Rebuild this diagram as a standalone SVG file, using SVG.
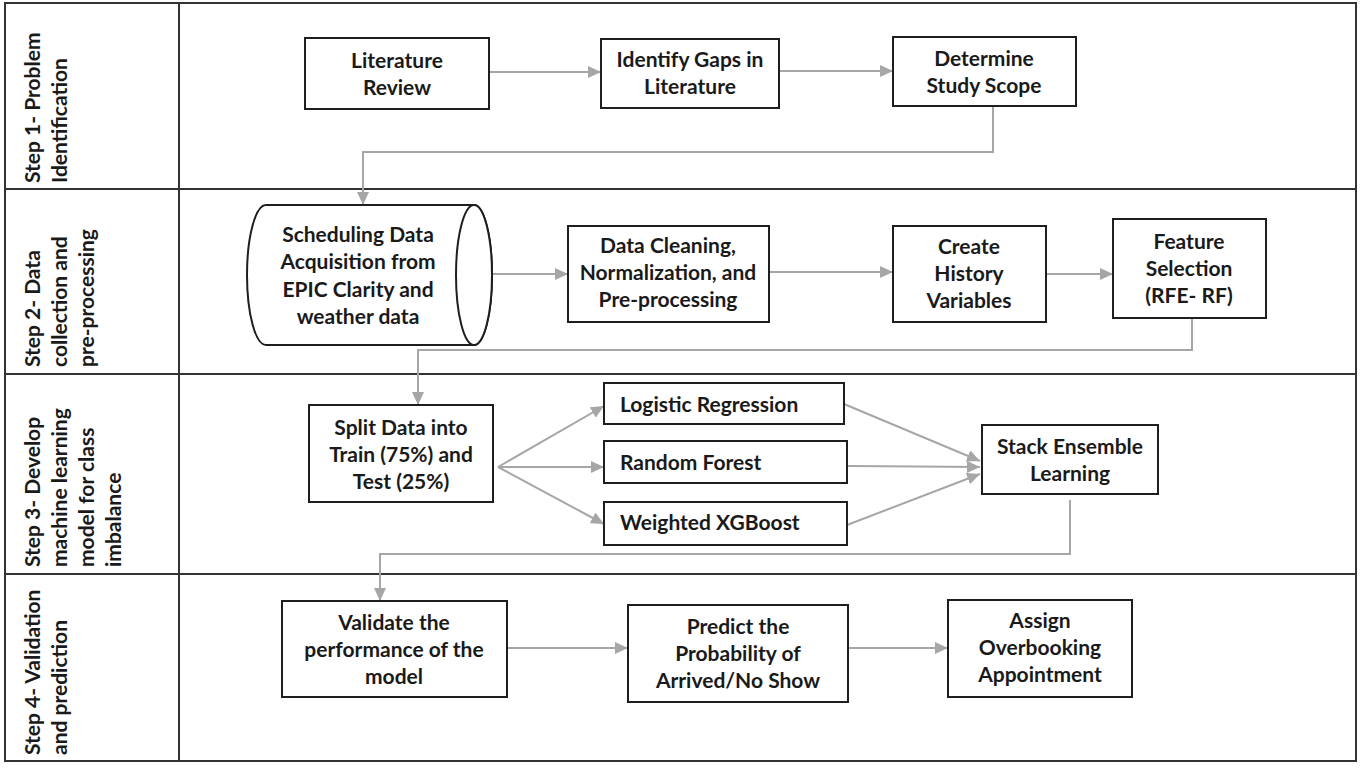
<svg xmlns="http://www.w3.org/2000/svg" width="1364" height="768" viewBox="0 0 1364 768">
  <defs>
    <marker id="arrow" markerUnits="userSpaceOnUse" markerWidth="14" markerHeight="12" refX="13" refY="6" orient="auto">
      <path d="M0,0 L13,6 L0,12 Z" fill="#a6a6a6"/>
    </marker>
    <style>
      .grid { fill: none; stroke: #333; stroke-width: 2; }
      .box { fill: #fff; stroke: #1e1e1e; stroke-width: 2; }
      .conn { fill: none; stroke: #a6a6a6; stroke-width: 2; marker-end: url(#arrow); }
      text { font-family: Lato, "Liberation Sans", sans-serif; font-weight: bold; font-size: 21px; fill: #1a1a1a; }
      .c { text-anchor: middle; }
      .lbl { text-anchor: start; }
    </style>
  </defs>
  <rect width="1364" height="768" fill="#fff"/>

  <!-- table frame -->
  <g id="table">
    <rect class="grid" x="5" y="3" width="1351" height="758"/>
    <line class="grid" x1="179" y1="3" x2="179" y2="761"/>
    <line class="grid" x1="5" y1="189" x2="1356" y2="189"/>
    <line class="grid" x1="5" y1="374" x2="1356" y2="374"/>
    <line class="grid" x1="5" y1="574" x2="1356" y2="574"/>
  </g>

  <!-- row labels -->
  <g id="label-step1">
    <text class="lbl" transform="translate(40,183) rotate(-90)">Step 1- Problem</text>
    <text class="lbl" transform="translate(67,183) rotate(-90)">Identification</text>
  </g>
  <g id="label-step2">
    <text class="lbl" transform="translate(40,367) rotate(-90)">Step 2- Data</text>
    <text class="lbl" transform="translate(67,367) rotate(-90)">collection and</text>
    <text class="lbl" transform="translate(94,367) rotate(-90)">pre-processing</text>
  </g>
  <g id="label-step3">
    <text class="lbl" transform="translate(40,567) rotate(-90)">Step 3- Develop</text>
    <text class="lbl" transform="translate(67,567) rotate(-90)">machine learning</text>
    <text class="lbl" transform="translate(94,567) rotate(-90)">model for class</text>
    <text class="lbl" transform="translate(121,567) rotate(-90)">imbalance</text>
  </g>
  <g id="label-step4">
    <text class="lbl" transform="translate(40,755) rotate(-90)">Step 4- Validation</text>
    <text class="lbl" transform="translate(67,755) rotate(-90)">and prediction</text>
  </g>

  <!-- connectors -->
  <g id="connectors">
    <path class="conn" d="M489,72 H601"/>
    <path class="conn" d="M779,71 H893"/>
    <path class="conn" d="M993,106 V152 H363 V205"/>
    <path class="conn" d="M492,274 H568"/>
    <path class="conn" d="M769,272 H893"/>
    <path class="conn" d="M1046,274 H1113"/>
    <path class="conn" d="M1192,318 V350 H418 V405"/>
    <path class="conn" d="M498,467 L604,406"/>
    <path class="conn" d="M498,467 L604,467"/>
    <path class="conn" d="M498,467 L604,524"/>
    <path class="conn" d="M844,404 L980,461"/>
    <path class="conn" d="M847,466 L980,467"/>
    <path class="conn" d="M847,525 L980,474"/>
    <path class="conn" d="M1070,500 V554 H380 V601"/>
    <path class="conn" d="M507,648 H628"/>
    <path class="conn" d="M848,648 H948"/>
  </g>

  <!-- step 1 -->
  <g id="literature-review">
    <rect class="box" x="305" y="38" width="184" height="71"/>
    <text class="c" x="397" y="68">Literature</text>
    <text class="c" x="397" y="95">Review</text>
  </g>
  <g id="identify-gaps">
    <rect class="box" x="601" y="39" width="178" height="69"/>
    <text class="c" x="690" y="67">Identify Gaps in</text>
    <text class="c" x="690" y="94">Literature</text>
  </g>
  <g id="study-scope">
    <rect class="box" x="893" y="37" width="183" height="69"/>
    <text class="c" x="984" y="66">Determine</text>
    <text class="c" x="984" y="93">Study Scope</text>
  </g>

  <!-- step 2 -->
  <g id="data-acquisition">
    <path class="box" d="M266,205 H474 A18,70 0 0 1 474,345 H266 A19,70 0 0 1 266,205 Z"/>
    <ellipse class="box" cx="474" cy="275" rx="18" ry="70"/>
    <text class="c" x="358" y="242">Scheduling Data</text>
    <text class="c" x="358" y="269">Acquisition from</text>
    <text class="c" x="358" y="297">EPIC Clarity and</text>
    <text class="c" x="358" y="324">weather data</text>
  </g>
  <g id="data-cleaning">
    <rect class="box" x="568" y="226" width="201" height="96"/>
    <text class="c" x="668" y="253">Data Cleaning,</text>
    <text class="c" x="668" y="280">Normalization, and</text>
    <text class="c" x="668" y="307">Pre-processing</text>
  </g>
  <g id="history-variables">
    <rect class="box" x="893" y="226" width="153" height="96"/>
    <text class="c" x="969" y="254">Create</text>
    <text class="c" x="969" y="281">History</text>
    <text class="c" x="969" y="308">Variables</text>
  </g>
  <g id="feature-selection">
    <rect class="box" x="1113" y="219" width="153" height="99"/>
    <text class="c" x="1189" y="249">Feature</text>
    <text class="c" x="1189" y="276">Selection</text>
    <text class="c" x="1189" y="303">(RFE- RF)</text>
  </g>

  <!-- step 3 -->
  <g id="split-data">
    <rect class="box" x="309" y="405" width="184" height="97"/>
    <text class="c" x="401" y="435">Split Data into</text>
    <text class="c" x="401" y="462">Train (75%) and</text>
    <text class="c" x="401" y="489">Test (25%)</text>
  </g>
  <g id="logistic-regression">
    <rect class="box" x="604" y="383" width="240" height="41"/>
    <text x="620" y="412">Logistic Regression</text>
  </g>
  <g id="random-forest">
    <rect class="box" x="604" y="441" width="243" height="42"/>
    <text x="620" y="470">Random Forest</text>
  </g>
  <g id="weighted-xgboost">
    <rect class="box" x="604" y="502" width="243" height="43"/>
    <text x="620" y="530">Weighted XGBoost</text>
  </g>
  <g id="stack-ensemble">
    <rect class="box" x="982" y="425" width="176" height="69"/>
    <text class="c" x="1070" y="454">Stack Ensemble</text>
    <text class="c" x="1070" y="481">Learning</text>
  </g>

  <!-- step 4 -->
  <g id="validate">
    <rect class="box" x="282" y="601" width="225" height="96"/>
    <text class="c" x="394" y="630">Validate the</text>
    <text class="c" x="394" y="657">performance of the</text>
    <text class="c" x="394" y="684">model</text>
  </g>
  <g id="predict">
    <rect class="box" x="628" y="605" width="220" height="97"/>
    <text class="c" x="738" y="634">Predict the</text>
    <text class="c" x="738" y="661">Probability of</text>
    <text class="c" x="738" y="688">Arrived/No Show</text>
  </g>
  <g id="assign">
    <rect class="box" x="948" y="600" width="184" height="97"/>
    <text class="c" x="1040" y="628">Assign</text>
    <text class="c" x="1040" y="655">Overbooking</text>
    <text class="c" x="1040" y="682">Appointment</text>
  </g>
</svg>
